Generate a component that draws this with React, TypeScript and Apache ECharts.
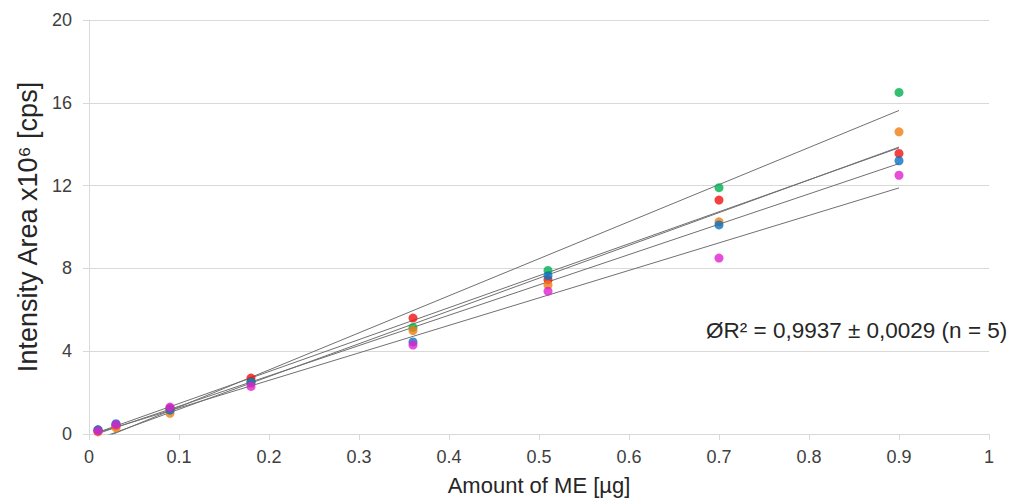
import React, { useEffect, useRef } from "react";
import * as echarts from "echarts";

const amounts = [0.01, 0.03, 0.09, 0.18, 0.36, 0.51, 0.7, 0.9];
const seriesNames = ["Green", "Red", "Orange", "Blue", "Magenta"];
const seriesColors = ["#00b050", "#ee1111", "#f07d12", "#0a70c0", "#e020d0"];
const greenValues = [0.2, 0.45, 1.25, 2.55, 5.15, 7.9, 11.9, 16.5];
const redValues = [0.15, 0.4, 1.2, 2.7, 5.6, 7.45, 11.3, 13.55];
const orangeValues = [0.1, 0.3, 1.0, 2.45, 5.0, 7.2, 10.25, 14.6];
const blueValues = [0.2, 0.5, 1.15, 2.5, 4.45, 7.65, 10.1, 13.2];
const magentaValues = [0.15, 0.45, 1.3, 2.3, 4.3, 6.9, 8.5, 12.5];
const allValues = [greenValues, redValues, orangeValues, blueValues, magentaValues];
const xTicks = [0, 0.1, 0.2, 0.3, 0.4, 0.5, 0.6, 0.7, 0.8, 0.9, 1];
const yTicks = [0, 4, 8, 12, 16, 20];
const annotation = "ØR² = 0,9937 ± 0,0029 (n = 5)";

function linFit(xs: number[], ys: number[]) {
  const n = xs.length;
  const mx = xs.reduce((a, b) => a + b, 0) / n;
  const my = ys.reduce((a, b) => a + b, 0) / n;
  let sxy = 0, sxx = 0;
  for (let i = 0; i < n; i++) {
    sxy += (xs[i] - mx) * (ys[i] - my);
    sxx += (xs[i] - mx) * (xs[i] - mx);
  }
  const b = sxy / sxx;
  return { a: my - b * mx, b };
}

export default function App() {
  const ref = useRef<HTMLDivElement>(null);
  useEffect(() => {
    if (!ref.current) return;
    const chart = echarts.init(ref.current, null, { renderer: "svg" });
    const font = "'Liberation Sans', Arial, sans-serif";
    const xMin = Math.min(...amounts);
    const xMax = Math.max(...amounts);
    const trendSeries = allValues.map((vals, i) => {
      const { a, b } = linFit(amounts, vals);
      return {
        name: seriesNames[i] + " fit",
        type: "line",
        data: [[xMin, a + b * xMin], [xMax, a + b * xMax]],
        symbol: "none",
        clip: true,
        lineStyle: { color: "#707070", width: 1 },
        z: 2,
        silent: true,
      };
    });
    const scatterSeries = allValues.map((vals, i) => ({
      name: seriesNames[i],
      type: "scatter",
      data: amounts.map((x, j) => [x, vals[j]]),
      symbol: "circle",
      symbolSize: 9,
      itemStyle: { color: seriesColors[i] },
      z: 3,
    }));
    chart.setOption({
      animation: false,
      backgroundColor: "#ffffff",
      textStyle: { fontFamily: font },
      grid: { left: 89, right: 23, top: 20, bottom: 64, containLabel: false },
      xAxis: {
        type: "value",
        min: 0,
        max: 1,
        interval: 0.1,
        name: "Amount of ME [µg]",
        nameLocation: "middle",
        nameGap: 40,
        nameTextStyle: { fontSize: 22, color: "#262626", fontFamily: font },
        axisLine: { show: true, lineStyle: { color: "#d9d9d9", width: 1 } },
        axisTick: { show: true, length: 6, lineStyle: { color: "#d9d9d9" } },
        axisLabel: {
          fontSize: 18,
          color: "#404040",
          margin: 14,
          formatter: (v: number) => {
            const t = xTicks.find((x) => Math.abs(x - v) < 1e-9);
            return t === undefined ? "" : String(t);
          },
        },
        splitLine: { show: false },
      },
      yAxis: {
        type: "value",
        min: 0,
        max: 20,
        interval: 4,
        name: "Intensity Area x10⁶ [cps]",
        nameLocation: "middle",
        nameGap: 46,
        nameTextStyle: { fontSize: 27, color: "#262626", fontFamily: font },
        axisLine: { show: true, lineStyle: { color: "#d9d9d9", width: 1 } },
        axisTick: { show: true, length: 6, lineStyle: { color: "#d9d9d9" } },
        axisLabel: {
          fontSize: 18,
          color: "#404040",
          margin: 17,
          formatter: (v: number) => (yTicks.includes(v) ? String(v) : ""),
        },
        splitLine: { show: true, lineStyle: { color: "#d9d9d9", width: 1 } },
      },
      graphic: [
        {
          type: "text",
          left: 706,
          top: 319,
          style: {
            text: annotation,
            fontSize: 22.5,
            fill: "#262626",
            fontFamily: font,
          },
        },
      ],
      series: [...trendSeries, ...scatterSeries],
    });
    return () => chart.dispose();
  }, []);
  return (
    <div
      ref={ref}
      style={{ position: "fixed", left: 0, top: 0, width: 1012, height: 501 }}
    />
  );
}
